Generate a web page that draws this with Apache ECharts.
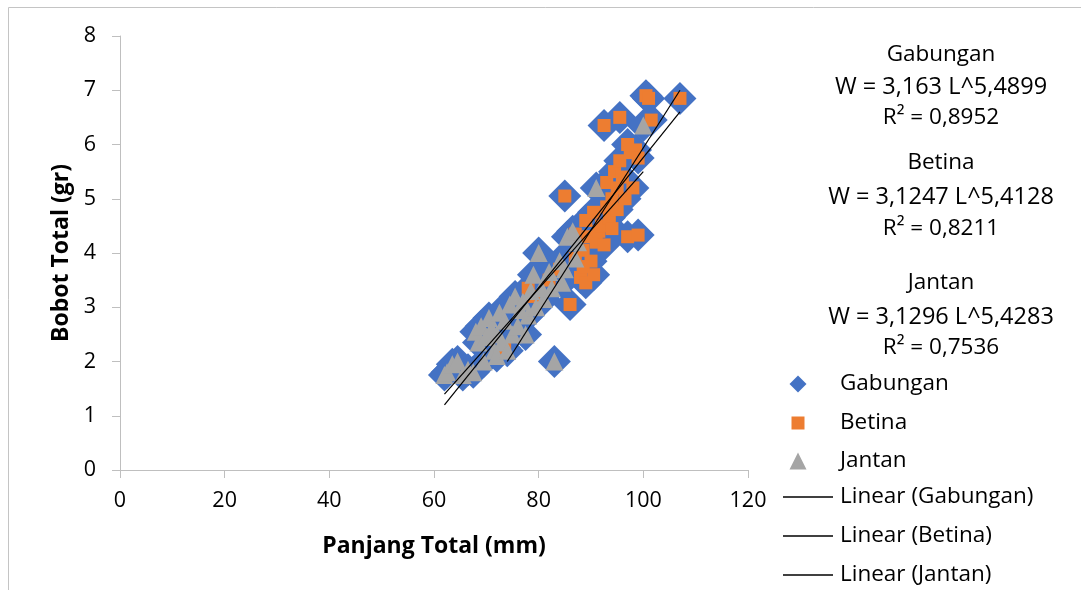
<!DOCTYPE html>
<html>
<head>
<meta charset="utf-8">
<script src="https://cdn.jsdelivr.net/npm/echarts@6.0.0/dist/echarts.min.js"></script>
<style>
  html, body { margin: 0; padding: 0; background: #ffffff; }
  #chart { width: 1081px; height: 590px; }
</style>
</head>
<body>
<div id="chart"></div>
<script>
// Series names and trend-line names
const seriesNames = ['Gabungan', 'Betina', 'Jantan'];
const trendNames = ['Linear (Gabungan)', 'Linear (Betina)', 'Linear (Jantan)'];

// Betina: [Panjang Total (mm), Bobot Total (gr)]
const betina = [
  [73.5, 2.25], [78, 3.35], [79, 3.2], [82, 3.5], [84, 3.7], [85, 5.05], [86, 3.05],
  [87, 3.9], [87, 4.35], [88, 3.55], [88.5, 4.05], [89, 3.45], [89, 4.6], [89.5, 4.3],
  [90, 3.85], [90.5, 4.75], [91, 4.2], [91.5, 4.4], [92, 4.5], [92.5, 4.15], [93, 4.85],
  [93, 5.3], [93.5, 4.65], [94, 4.45], [94, 5.0], [94.5, 5.5], [95, 4.8], [95, 5.2],
  [95.5, 5.7], [96, 5.4], [96.5, 5.0], [97, 6.0], [97, 4.3], [97.5, 5.85], [98, 5.2],
  [98.5, 5.9], [99, 4.33], [99, 5.75], [92.5, 6.35], [95.5, 6.5], [100.5, 6.9],
  [101, 6.85], [101.5, 6.45], [107, 6.85], [88.5, 3.75], [90.5, 3.6]
];

// Jantan: [Panjang Total (mm), Bobot Total (gr)]
const jantan = [
  [62, 1.75], [62.5, 1.8], [63.5, 1.95], [64.5, 2.0], [65.5, 1.75], [66.5, 1.85],
  [67.5, 1.8], [68, 2.55], [68.5, 2.35], [69, 2.65], [69.5, 2.0], [70, 2.45], [70.5, 2.8],
  [71, 2.6], [71.5, 2.2], [72, 2.1], [72, 2.5], [72.5, 2.9], [73, 2.35], [73.5, 2.75],
  [74, 2.2], [74.5, 3.05], [75, 2.5], [75.5, 3.2], [76, 2.65], [76.5, 2.95], [77, 3.1],
  [77.5, 2.5], [78, 2.85], [78.5, 3.3], [79, 3.6], [79.5, 3.0], [80, 4.0], [80.5, 3.35],
  [81, 3.15], [82, 3.65], [82.5, 3.35], [83, 2.0], [84, 3.85], [84.5, 3.45], [85, 3.7],
  [85.5, 4.3], [86.5, 4.4], [87, 3.9], [87.5, 4.2], [91, 5.2], [100, 6.35]
];

// Gabungan is both groups together
const gabungan = betina.concat(jantan);

// Linear trend lines, end points [x, y]
const trendGabungan = [[62, 1.2], [107, 6.6]];
const trendBetina = [[74, 2.0], [107, 7.0]];
const trendJantan = [[62, 1.4], [100, 5.5]];

// Regression equations printed beside the plot
const equationLines = [
  ['Gabungan', 'W = 3,163 L^5,4899', 'R² = 0,8952'],
  ['Betina', 'W = 3,1247 L^5,4128', 'R² = 0,8211'],
  ['Jantan', 'W = 3,1296 L^5,4283', 'R² = 0,7536']
];

// Axis scales
const xScale = { min: 0, max: 120, interval: 20 };
const yScale = { min: 0, max: 8, interval: 1 };
const xTitle = 'Panjang Total (mm)';
const yTitle = 'Bobot Total (gr)';

const FONT = '"Open Sans", "Noto Sans", sans-serif';
const AXIS_GRAY = '#bfbfbf';
const colors = { Gabungan: '#4472C4', Betina: '#ED7D31', Jantan: '#A5A5A5' };

const chart = echarts.init(document.getElementById('chart'), null, { renderer: 'canvas' });

// Equation text blocks
const eqY = [[55, 87, 118], [163, 197, 229], [283, 317, 348]];
const graphics = [{
  type: 'rect', silent: true, z: -10,
  shape: { x: 8.5, y: 7.5, width: 1200, height: 700 },
  style: { fill: 'none', stroke: '#c4c4c4', lineWidth: 1 }
}];
equationLines.forEach((block, b) => {
  block.forEach((line, i) => {
    graphics.push({
      type: 'text', silent: true,
      x: 941, y: eqY[b][i],
      style: {
        text: line, fill: '#000', align: 'center', verticalAlign: 'middle',
        font: (i === 1 ? '23.5px ' : '22.5px ') + FONT
      }
    });
  });
});

// One legend block per entry so each row sits where it should
const legendRows = [384, 423, 461, 497, 536, 575];
const legendIcon = [17, 13, 17];
const legends = seriesNames.concat(trendNames).map((name, i) => {
  const isScatter = i < 3;
  const w = isScatter ? legendIcon[i] : 50;
  const h = isScatter ? legendIcon[i] : 1.6;
  const left = isScatter ? 798 - w / 2 : 783;
  const pad = 840 - (left + w + 5);
  const item = isScatter ? { name: name } : { name: name, icon: 'path://M0,0H50V1.6H0Z' };
  return {
    data: [item], orient: 'vertical', selectedMode: false,
    left: left, top: legendRows[i] - 13, padding: 0,
    itemWidth: w, itemHeight: h,
    textStyle: { fontFamily: FONT, fontSize: 22.5, color: '#000', lineHeight: 26, padding: [0, 0, 0, pad] }
  };
});

const scatterSeries = [
  { name: 'Gabungan', data: gabungan, symbol: 'diamond', symbolSize: 33 },
  { name: 'Betina', data: betina, symbol: 'rect', symbolSize: 13 },
  { name: 'Jantan', data: jantan, symbol: 'triangle', symbolSize: 18 }
].map(s => ({
  type: 'scatter', name: s.name, data: s.data, symbol: s.symbol, symbolSize: s.symbolSize,
  itemStyle: { color: colors[s.name], opacity: 1 },
  emphasis: { disabled: true }, z: 2
}));

const trendSeries = [
  { name: trendNames[0], data: trendGabungan },
  { name: trendNames[1], data: trendBetina },
  { name: trendNames[2], data: trendJantan }
].map(s => ({
  type: 'line', name: s.name, data: s.data, symbol: 'none', showSymbol: false,
  lineStyle: { color: '#000', width: 1.2 }, itemStyle: { color: '#000' },
  emphasis: { disabled: true }, z: 3
}));

chart.setOption({
  animation: false,
  backgroundColor: '#ffffff',
  textStyle: { fontFamily: FONT },
  grid: { left: 120, top: 36, right: 333, bottom: 120, outerBoundsMode: 'none' },
  legend: legends,
  tooltip: { show: false },
  xAxis: {
    type: 'value', min: xScale.min, max: xScale.max, interval: xScale.interval,
    axisLine: { show: true, onZero: false, lineStyle: { color: AXIS_GRAY, width: 1 } },
    axisTick: { show: true, length: 8, lineStyle: { color: AXIS_GRAY } },
    splitLine: { show: false },
    axisLabel: { fontFamily: FONT, fontSize: 21.5, color: '#000', margin: 20 },
    name: xTitle, nameLocation: 'middle', nameGap: 65,
    nameTextStyle: { fontFamily: FONT, fontSize: 23, fontWeight: 'bold', color: '#000' }
  },
  yAxis: {
    type: 'value', min: yScale.min, max: yScale.max, interval: yScale.interval,
    axisLine: { show: true, onZero: false, lineStyle: { color: AXIS_GRAY, width: 1 } },
    axisTick: { show: true, length: 8, lineStyle: { color: AXIS_GRAY } },
    splitLine: { show: false },
    axisLabel: { fontFamily: FONT, fontSize: 21.5, color: '#000', margin: 24 },
    name: yTitle, nameLocation: 'middle', nameGap: 45, nameRotate: 90,
    nameTextStyle: { fontFamily: FONT, fontSize: 23, fontWeight: 'bold', color: '#000' }
  },
  graphic: graphics,
  series: scatterSeries.concat(trendSeries)
});
</script>
</body>
</html>
